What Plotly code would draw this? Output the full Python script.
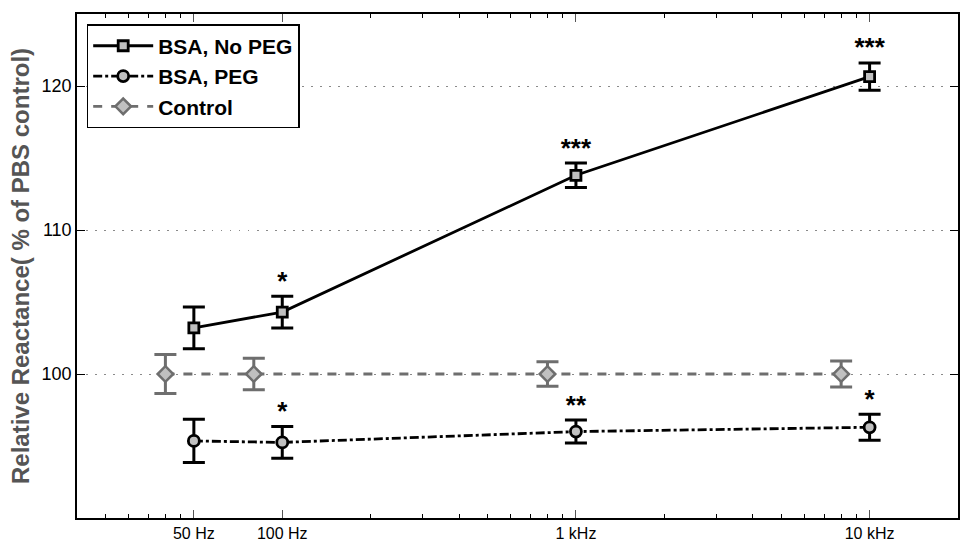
import plotly.graph_objects as go

freqs = [50, 100, 1000, 10000]
ctrl_freqs = [40, 80, 800, 8000]
tick_vals = [50, 100, 1000, 10000]
tick_text = ["50 Hz", "100 Hz", "1 kHz", "10 kHz"]
minor_ticks = [25, 30, 35, 40, 45, 200, 300, 400, 500, 600, 700, 800, 900,
               2000, 3000, 4000, 5000, 6000, 7000, 8000, 9000]

nopeg_y = [103.2, 104.3, 113.8, 120.65]
nopeg_err = [1.45, 1.1, 0.85, 0.95]
nopeg_stars = ["", "*", "***", "***"]

peg_y = [95.35, 95.25, 96.0, 96.3]
peg_err = [1.5, 1.1, 0.8, 0.9]
peg_stars = ["", "*", "**", "*"]

ctrl_y = [100, 100, 100, 100]
ctrl_err = [1.35, 1.1, 0.85, 0.9]

BLACK = "#000000"
GRAY = "#6e6e6e"
FILL = "#c0c0c0"
FONT = "Liberation Sans, Arial"

fig = go.Figure()

fig.add_trace(go.Scatter(
    x=freqs, y=nopeg_y, name="BSA, No PEG", mode="lines+markers",
    line=dict(color=BLACK, width=2.8, dash="solid"),
    marker=dict(symbol="square", size=10, color=FILL, line=dict(color=BLACK, width=2.8)),
    error_y=dict(type="data", array=nopeg_err, color=BLACK, thickness=3, width=11),
))
fig.add_trace(go.Scatter(
    x=freqs, y=peg_y, name="BSA, PEG", mode="lines+markers",
    line=dict(color=BLACK, width=2.8, dash="dashdot"),
    marker=dict(symbol="circle", size=11, color=FILL, line=dict(color=BLACK, width=2.8)),
    error_y=dict(type="data", array=peg_err, color=BLACK, thickness=3, width=11),
))
fig.add_trace(go.Scatter(
    x=ctrl_freqs, y=ctrl_y, name="Control", mode="lines+markers",
    line=dict(color=GRAY, width=2.8, dash="dash"),
    marker=dict(symbol="diamond", size=12, color=FILL, line=dict(color=GRAY, width=2.5)),
    error_y=dict(type="data", array=ctrl_err, color=GRAY, thickness=3, width=11),
))

# significance stars
fig.add_trace(go.Scatter(
    x=freqs, y=[v + e for v, e in zip(nopeg_y, nopeg_err)], text=nopeg_stars,
    mode="text", textposition="top center", showlegend=False, hoverinfo="skip",
    textfont=dict(family=FONT, size=26, color=BLACK, weight="bold"),
))
fig.add_trace(go.Scatter(
    x=freqs, y=[v + e for v, e in zip(peg_y, peg_err)], text=peg_stars,
    mode="text", textposition="top center", showlegend=False, hoverinfo="skip",
    textfont=dict(family=FONT, size=26, color=BLACK, weight="bold"),
))

fig.update_layout(
    width=961, height=544,
    margin=dict(l=77, r=3, t=14, b=26),
    paper_bgcolor="white", plot_bgcolor="white",
    font=dict(family=FONT, size=16, color=BLACK),
    showlegend=True,
    legend=dict(
        x=0.011, y=0.98, xanchor="left", yanchor="top",
        bgcolor="white", bordercolor=BLACK, borderwidth=1.5,
        font=dict(family=FONT, size=21, color=BLACK, weight="bold"),
        tracegroupgap=0, itemwidth=60,
    ),
    xaxis=dict(
        type="log", range=[1.30103, 4.30103],
        tickmode="array", tickvals=tick_vals, ticktext=tick_text,
        ticks="inside", ticklen=8, tickwidth=1, tickcolor="#555555",
        showline=True, linecolor=BLACK, linewidth=1.5, mirror="ticks",
        showgrid=False, zeroline=False, automargin=False,
        tickfont=dict(size=16, color=BLACK),
        minor=dict(tickmode="array", tickvals=minor_ticks, ticks="inside",
                   ticklen=4, tickcolor=BLACK, tickwidth=1, showgrid=False),
    ),
    yaxis=dict(
        range=[90, 125], tickmode="array", tickvals=[100, 110, 120],
        ticks="inside", ticklen=8, tickwidth=1, tickcolor=BLACK,
        showline=True, linecolor=BLACK, linewidth=1.5, mirror="ticks",
        showgrid=True, gridcolor="#8a8a8a", griddash="1.5px,7.5px", gridwidth=1,
        zeroline=False, automargin=False,
        tickfont=dict(size=18, color=BLACK),
        title=dict(text="Relative Reactance( % of PBS control)", standoff=5,
                   font=dict(size=24, color="#555555", weight="bold")),
    ),
)

fig.write_html("out.html")
